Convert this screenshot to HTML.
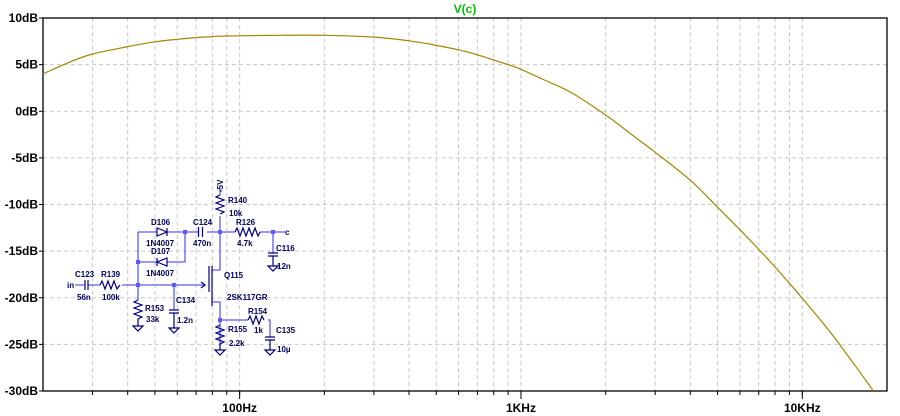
<!DOCTYPE html>
<html><head><meta charset="utf-8"><style>
html,body{margin:0;padding:0;background:#fff;}
svg{display:block;font-family:"Liberation Sans",sans-serif;}
</style></head><body>
<svg id="chart" width="900" height="416" xmlns="http://www.w3.org/2000/svg">
<g id="grid"></g>
<g id="axes"></g>
<text x="465" y="13" fill="#00c000" font-size="12" font-weight="bold" text-anchor="middle">V(c)</text>
<g id="schematic" font-size="8" font-weight="bold" fill="#000060">
 <g stroke="#5a5aff" stroke-width="1.3" fill="none">
  <path d="M220 189V195M220 216V232M138 232H157M167 232H185M185 232H198M207 232H235M260 232H285M185 232V262H167M157 262H138M138 232V300M75 285H85M88 285H100M122 285H205M174 285V310M220 232V270H212M212 302H220V345M220 320H248M268 320H270V337M273 232V253"/>
 </g>
 <g stroke="#000080" stroke-width="1.2" fill="none">
  <path d="M220 195l-4 2 8 3 -8 3 8 3 -8 3 8 3 -4 2"/>
  <path d="M235 232l2 -4 3 8 3 -8 3 8 3 -8 3 8 3 -8 3 8 2 -4"/>
  <path d="M100 285l2 -4 3 8 3 -8 3 8 3 -8 3 8 3 -4"/>
  <path d="M138 300l-4 2 8 3 -8 3 8 3 -8 3 8 3 -4 2V326"/>
  <path d="M220 325l-4 2 8 3 -8 3 8 3 -8 3 8 3 -4 2V350"/>
  <path d="M248 320l2 -4 3 8 3 -8 3 8 3 -8 2 4"/>
  <path d="M198.5 227v10M202.5 227v10M85 280v10M88 280v10M169 310h10M169 313h10M174 313V328M268 253h10M268 256h10M273 256V266M265 337h10M265 340h10M270 340V350"/>
  <path d="M157 228v8l10 -4z M167 228v8 M167 258v8l-10 -4z M157 258v8"/>
  <path d="M209 266v26M212 266v40M201 282l4 3 -4 3"/>
  <path d="M133 326h10l-5 5z M169 328h10l-5 5z M215 350h10l-5 5z M268 266h10l-5 5z M265 350h10l-5 5z"/>
 </g>
 <g fill="#5a5aff">
  <rect x="136" y="260" width="4" height="4"/><rect x="183" y="230" width="4" height="4"/><rect x="218" y="230" width="4" height="4"/><rect x="271" y="230" width="4" height="4"/><rect x="136" y="283" width="4" height="4"/><rect x="172" y="283" width="4" height="4"/><rect x="218" y="318" width="4" height="4"/>
 </g>
 <text transform="translate(223,192) rotate(-90)">-5V</text>
 <text x="228" y="203">R140</text><text x="229" y="216">10k</text>
 <text x="151" y="225">D106</text><text x="146" y="246">1N4007</text>
 <text x="151" y="254">D107</text><text x="146" y="276">1N4007</text>
 <text x="193" y="225">C124</text><text x="193" y="246">470n</text>
 <text x="236" y="225">R126</text><text x="237" y="246">4.7k</text>
 <text x="285" y="235">c</text>
 <text x="276" y="251">C116</text><text x="277" y="269">12n</text>
 <text x="67" y="288">in</text>
 <text x="75" y="277">C123</text><text x="77" y="300">56n</text>
 <text x="101" y="277">R139</text><text x="102" y="300">100k</text>
 <text x="224" y="278">Q115</text><text x="227" y="300">2SK117GR</text>
 <text x="145" y="311">R153</text><text x="146" y="322">33k</text>
 <text x="176" y="303">C134</text><text x="177" y="323">1.2n</text>
 <text x="248" y="314">R154</text><text x="254" y="333">1k</text>
 <text x="276" y="333">C135</text><text x="277" y="352">10µ</text>
 <text x="228" y="332">R155</text><text x="229" y="346">2.2k</text>
</g>
</svg>
<script>
const freqs = [20,25,30,40,50,60,70,80,90,140,200,300,400,474,607,700,800,900,1000,1200,1500,2000,2500,3000,4000,5000,6000,7000,8000,9000,10000,12500,15000,17900];
const gainDb = [4.0,5.3,6.14,6.93,7.45,7.72,7.9,8.0,8.07,8.15,8.15,7.95,7.55,7.2,6.55,6.05,5.5,5.0,4.5,3.4,2.05,-0.4,-2.6,-4.4,-7.4,-10.3,-12.7,-14.8,-16.7,-18.45,-20.05,-23.6,-26.8,-30];
const yTicks = [10,5,0,-5,-10,-15,-20,-25,-30];
const xMajor = [100,1000,10000];
const xMajorLabels = ["100Hz","1KHz","10KHz"];
const NS="http://www.w3.org/2000/svg";
const L=43,R=887,T=18,B=391,fMin=20,fMax=20000,dMin=-30,dMax=10;
function xs(f){return L+(Math.log10(f)-Math.log10(fMin))/(Math.log10(fMax)-Math.log10(fMin))*(R-L);}
function ys(d){return T+(dMax-d)/(dMax-dMin)*(B-T);}
function mk(tag,attrs,parent){const e=document.createElementNS(NS,tag);for(const k in attrs)e.setAttribute(k,attrs[k]);parent.appendChild(e);return e;}
const grid=document.getElementById('grid'),axes=document.getElementById('axes'),svg=document.getElementById('chart');
const minor=[];
for(let dec=10;dec<=10000;dec*=10)for(let m=1;m<10;m++){const f=dec*m;if(f>fMin&&f<fMax)minor.push(f);}
minor.forEach(f=>{
 const l=mk('line',{x1:xs(f),x2:xs(f),y1:T,y2:B,stroke:'#c8c8c8','stroke-dasharray':'4,3'},grid);
 
 
 const t=mk('line',{x1:xs(f),x2:xs(f),y1:B,y2:B+4,stroke:'#000'},axes);
 
 
});
yTicks.forEach(d=>{
 if(d<dMax&&d>dMin){const l=mk('line',{x1:L,x2:R,y1:ys(d),y2:ys(d),stroke:'#c8c8c8','stroke-dasharray':'4,3'},grid);
 
 }
 const t=mk('line',{x1:L-4,x2:L,y1:ys(d),y2:ys(d),stroke:'#000'},axes);
 
 
 const tx=mk('text',{x:L-5,y:ys(d)+4,'text-anchor':'end','font-size':'12','font-weight':'bold',fill:'#000'},axes);
 tx.textContent=d+'dB';
 
 
});
xMajor.forEach((f,i)=>{
 const t=mk('line',{x1:xs(f),x2:xs(f),y1:B,y2:B+8,stroke:'#000'},axes);
 
 
 const tx=mk('text',{x:xs(f),y:B+21,'text-anchor':'middle','font-size':'12','font-weight':'bold',fill:'#000'},axes);
 tx.textContent=xMajorLabels[i];
 
 
});
const fr=mk('rect',{x:L,y:T,width:R-L,height:B-T,fill:'none',stroke:'#000','stroke-width':1.3},axes);


const P=freqs.map((f,i)=>[xs(f),ys(gainDb[i])]);
let d='M'+P[0][0].toFixed(1)+','+P[0][1].toFixed(1);
for(let i=0;i<P.length-1;i++){
 const p0=P[Math.max(0,i-1)],p1=P[i],p2=P[i+1],p3=P[Math.min(P.length-1,i+2)];
 const c1=[p1[0]+(p2[0]-p0[0])/6,p1[1]+(p2[1]-p0[1])/6];
 const c2=[p2[0]-(p3[0]-p1[0])/6,p2[1]-(p3[1]-p1[1])/6];
 d+=' C'+c1[0].toFixed(1)+','+c1[1].toFixed(1)+' '+c2[0].toFixed(1)+','+c2[1].toFixed(1)+' '+p2[0].toFixed(1)+','+p2[1].toFixed(1);
}
const line=mk('path',{d:d,fill:'none',stroke:'#a88400','stroke-width':1.2},svg);


svg.insertBefore(line,document.getElementById('schematic'));
</script>
</body></html>
